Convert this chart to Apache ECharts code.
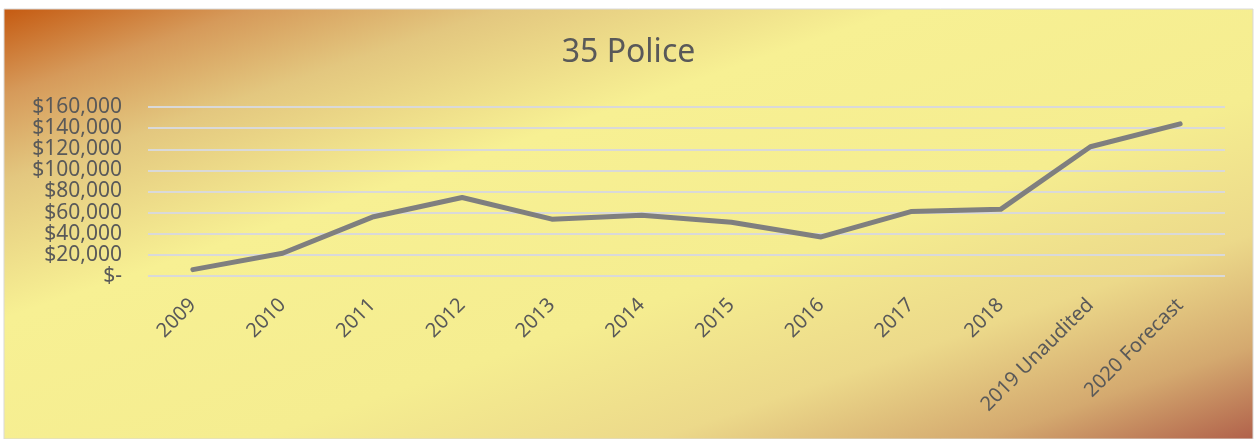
<!DOCTYPE html>
<html>
<head>
<meta charset="utf-8">
<script src="https://cdn.jsdelivr.net/npm/echarts@6/dist/echarts.min.js"></script>
<style>
html,body{margin:0;padding:0;background:#ffffff;}
#chart{width:1257px;height:439px;}
</style>
</head>
<body>
<div id="chart"></div>
<script>
const titleText = "35 Police";
const categories = ["2009","2010","2011","2012","2013","2014","2015","2016","2017","2018","2019 Unaudited","2020 Forecast"];
const values = [6000, 21500, 55800, 74300, 53800, 57500, 50900, 37000, 61000, 63100, 122400, 144000];
const yTicks = [0, 20000, 40000, 60000, 80000, 100000, 120000, 140000, 160000];

const chart = echarts.init(document.getElementById('chart'), null, {renderer: 'canvas'});
const font = "'Noto Sans', sans-serif";
const bgW = 1249, bgH = 430;
// Gradient with isolines parallel to the anti-diagonal
const diag = Math.sqrt(bgW*bgW + bgH*bgH);
const len = 2*bgW*bgH/diag;
const gx = (bgH/diag)*len/bgW, gy = (bgW/diag)*len/bgH;

chart.setOption({
  animation: false,
  graphic: [{
    type: 'rect', z: -10, silent: true,
    shape: {x: 4, y: 9, width: bgW, height: bgH},
    style: {
      fill: new echarts.graphic.LinearGradient(0, 0, gx, gy, [
        {offset: 0, color: '#c55a11'},
        {offset: 0.1, color: '#d69a5a'},
        {offset: 0.2, color: '#e3c77f'},
        {offset: 0.36, color: '#f7f093'},
        {offset: 0.6, color: '#f5ed90'},
        {offset: 0.76, color: '#ecd98a'},
        {offset: 0.89, color: '#d4a96f'},
        {offset: 1, color: '#b0604a'}
      ]),
      stroke: '#d9d9d9', lineWidth: 1
    }
  }],
  title: {
    text: titleText, left: 'center', top: 32,
    textStyle: {fontFamily: font, fontSize: 32, fontWeight: 'normal', color: '#595959'}
  },
  grid: {left: 148, right: 32, top: 107, bottom: 163, containLabel: false},
  xAxis: {
    type: 'category', data: categories, boundaryGap: true,
    axisLine: {show: false}, axisTick: {show: false},
    axisLabel: {rotate: 45, margin: 26, interval: 0, fontFamily: font, fontSize: 20, color: '#595959'}
  },
  yAxis: {
    type: 'value', min: 0, max: 160000, interval: 20000,
    axisLine: {show: false}, axisTick: {show: false},
    splitLine: {lineStyle: {color: '#d9d9d9', width: 2}},
    axisLabel: {
      margin: 26, fontFamily: font, fontSize: 21, color: '#595959',
      formatter: function (v) { return v === 0 ? '$-' : '$' + v.toLocaleString('en-US'); }
    }
  },
  series: [{
    type: 'line', data: values, showSymbol: false, symbol: 'none',
    lineStyle: {color: '#7f7f7f', width: 5, cap: 'round', join: 'round'}
  }]
});
</script>
</body>
</html>
